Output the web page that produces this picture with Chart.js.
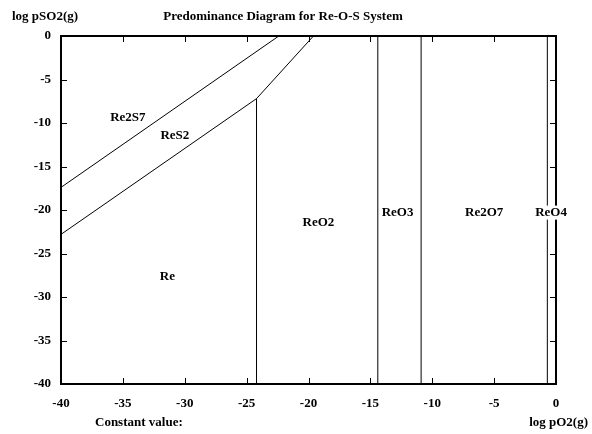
<!DOCTYPE html>
<html>
<head>
<meta charset="utf-8">
<script src="https://cdn.jsdelivr.net/npm/chart.js@4/dist/chart.umd.min.js"></script>
<style>
html,body{margin:0;padding:0;background:#fff;}
#wrap{width:592px;height:434px;position:relative;}
</style>
</head>
<body>
<div id="wrap"><canvas id="c" width="592" height="434"></canvas></div>
<script>
// Axis ranges / ticks
const xTicks = [-40, -35, -30, -25, -20, -15, -10, -5, 0];
const yTicks = [-40, -35, -30, -25, -20, -15, -10, -5, 0];

// Boundary lines (log pO2, log pSO2)
const re2s7Res2X = [-40, -22.4];
const re2s7Res2Y = [-17.4, 0];
const res2ReX = [-40, -24.2];
const res2ReY = [-22.8, -7.2];
const res2Reo2X = [-24.2, -19.6];
const res2Reo2Y = [-7.2, 0];
const reReo2X = [-24.2, -24.2];
const reReo2Y = [-40, -7.2];
const reo2Reo3X = [-14.4, -14.4];
const reo2Reo3Y = [-40, 0];
const reo3Re2o7X = [-10.9, -10.9];
const reo3Re2o7Y = [-40, 0];
const re2o7Reo4X = [-0.7, -0.7];
const re2o7Reo4Y = [-40, 0];

// Field labels
const fieldNames = ["Re2S7", "ReS2", "Re", "ReO2", "ReO3", "Re2O7", "ReO4"];
const fieldX = [-34.6, -30.8, -31.4, -19.2, -12.8, -5.8, -0.4];
const fieldY = [-9.4, -11.5, -27.7, -21.5, -20.3, -20.3, -20.3];

const titleText = "Predominance Diagram for Re-O-S System";
const yAxisTitle = "log pSO2(g)";
const xAxisTitle = "log pO2(g)";
const footText = "Constant value:";

const FONT = "'Liberation Serif', 'Times New Roman', serif";

function seg(xs, ys) {
  return {
    data: xs.map((x, i) => ({x: x, y: ys[i]})),
    showLine: true,
    borderColor: '#000',
    borderWidth: 1,
    pointRadius: 0,
    fill: false,
    tension: 0
  };
}

const datasets = [
  seg(re2s7Res2X, re2s7Res2Y),
  seg(res2ReX, res2ReY),
  seg(res2Reo2X, res2Reo2Y),
  seg(reReo2X, reReo2Y),
  seg(reo2Reo3X, reo2Reo3Y),
  seg(reo3Re2o7X, reo3Re2o7Y),
  seg(re2o7Reo4X, re2o7Reo4Y)
];

const decor = {
  id: 'decor',
  afterDraw(chart) {
    const ctx = chart.ctx;
    const a = chart.chartArea;
    const xs = chart.scales.x, ys = chart.scales.y;
    ctx.save();
    // frame
    ctx.strokeStyle = '#000';
    ctx.lineWidth = 2;
    ctx.strokeRect(a.left, a.top, a.right - a.left, a.bottom - a.top);
    // inward ticks
    ctx.lineWidth = 1;
    const tl = 6;
    ctx.beginPath();
    xTicks.forEach(v => {
      const px = Math.round(xs.getPixelForValue(v)) + 0.5;
      ctx.moveTo(px, a.bottom); ctx.lineTo(px, a.bottom - tl);
      ctx.moveTo(px, a.top); ctx.lineTo(px, a.top + tl);
    });
    yTicks.forEach(v => {
      const py = Math.round(ys.getPixelForValue(v)) + 0.5;
      ctx.moveTo(a.left, py); ctx.lineTo(a.left + tl, py);
      ctx.moveTo(a.right, py); ctx.lineTo(a.right - tl, py);
    });
    ctx.stroke();
    // field labels
    ctx.fillStyle = '#000';
    ctx.font = "bold 13px " + FONT;
    ctx.textAlign = 'center';
    ctx.textBaseline = 'middle';
    fieldNames.forEach((n, i) => {
      const px = xs.getPixelForValue(fieldX[i]);
      const py = ys.getPixelForValue(fieldY[i]);
      if (n === 'ReO4') {
        const w = ctx.measureText(n).width;
        ctx.fillStyle = '#fff';
        ctx.fillRect(px - w / 2 - 1, py - 7, w + 2, 14);
        ctx.fillStyle = '#000';
      }
      ctx.fillText(n, px, py);
    });
    // titles
    ctx.textBaseline = 'middle';
    ctx.textAlign = 'center';
    ctx.fillText(titleText, 283, 17);
    ctx.textAlign = 'left';
    ctx.fillText(yAxisTitle, 12, 17);
    ctx.fillText(footText, 95, 423);
    ctx.textAlign = 'right';
    ctx.fillText(xAxisTitle, 588, 423);
    ctx.restore();
  }
};

new Chart(document.getElementById('c'), {
  type: 'scatter',
  data: { datasets: datasets },
  options: {
    responsive: false,
    animation: false,
    devicePixelRatio: 1,
    layout: { padding: { top: 36, right: 36, left: 0, bottom: 0 } },
    plugins: { legend: { display: false }, tooltip: { enabled: false }, title: { display: false } },
    scales: {
      x: {
        type: 'linear', min: -40, max: 0,
        afterFit: s => { s.height = 50; },
        afterBuildTicks: s => { s.ticks = xTicks.map(v => ({value: v})); },
        ticks: { color: '#000', font: { family: FONT, weight: 'bold', size: 13 }, padding: 12, maxRotation: 0 },
        grid: { display: false, drawTicks: false },
        border: { display: false }
      },
      y: {
        type: 'linear', min: -40, max: 0,
        afterFit: s => { s.width = 61; },
        afterBuildTicks: s => { s.ticks = yTicks.map(v => ({value: v})); },
        ticks: { color: '#000', font: { family: FONT, weight: 'bold', size: 13 }, padding: 10 },
        grid: { display: false, drawTicks: false },
        border: { display: false }
      }
    }
  },
  plugins: [decor]
});
</script>
</body>
</html>
